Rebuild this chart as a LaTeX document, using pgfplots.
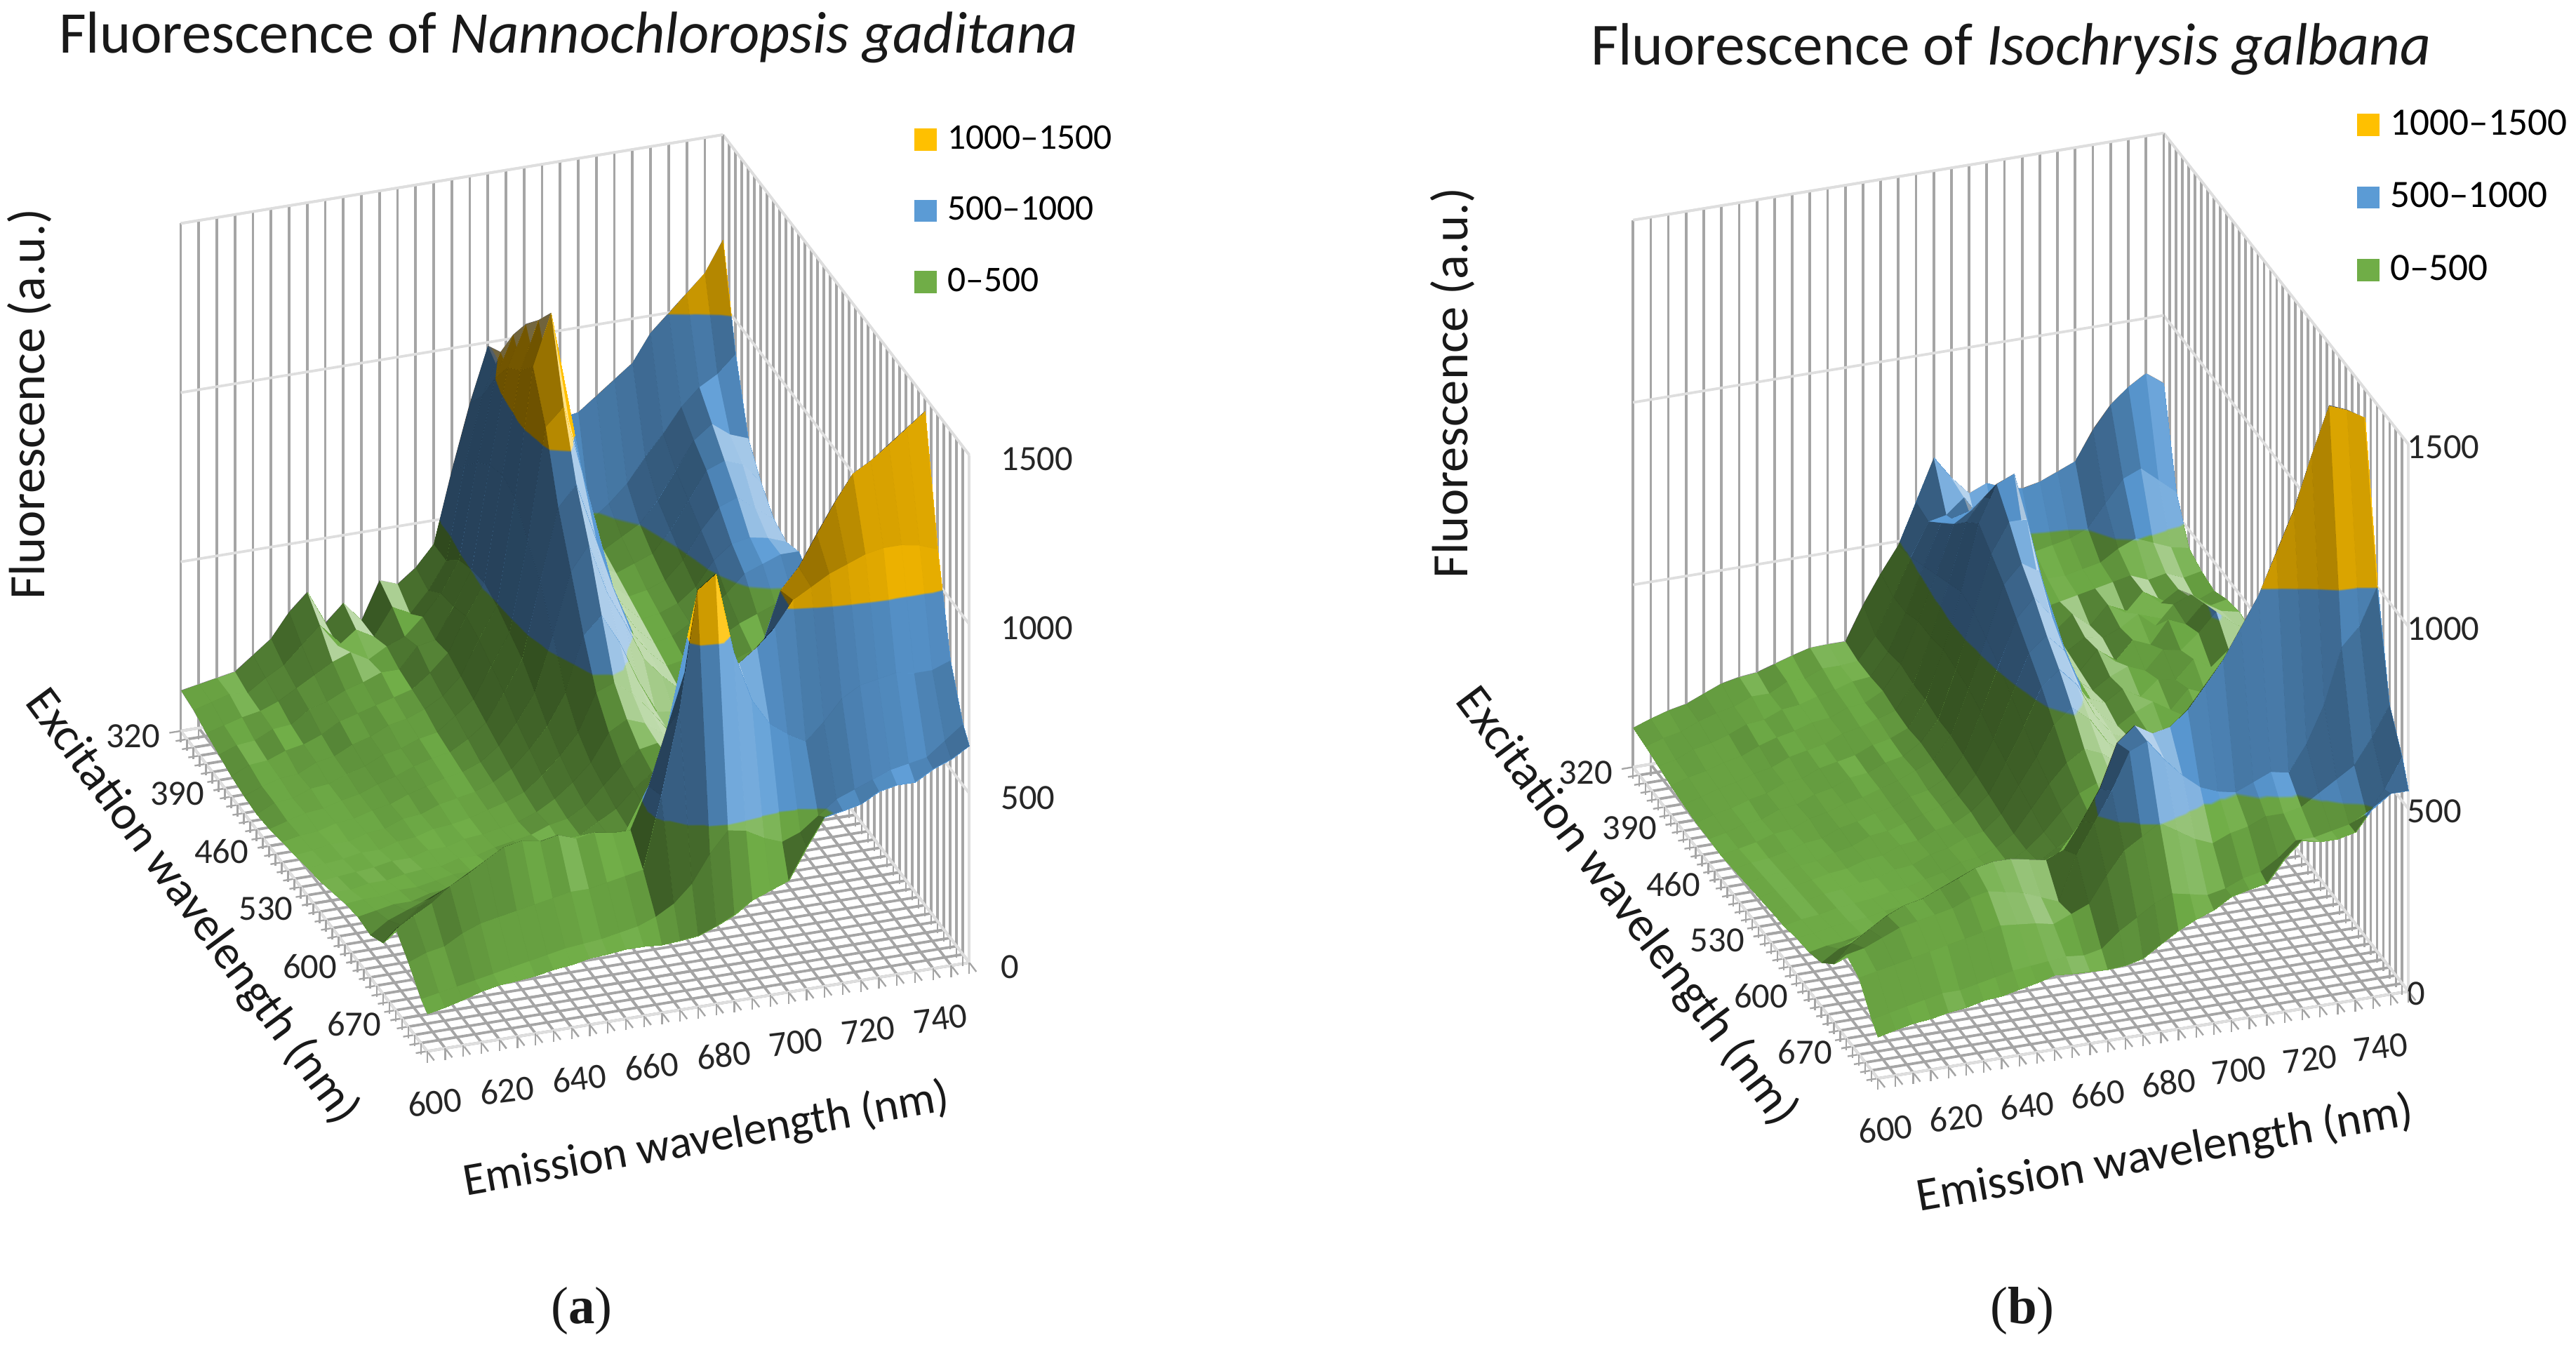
\documentclass[border=0pt]{standalone}
\usepackage{pgfplots}
\usepackage{pgfplotstable}
\usepackage{fontspec}
\setmainfont{Carlito}
\newfontfamily\serifb{Liberation Serif}
\pgfplotsset{compat=1.18}
\usepgfplotslibrary{patchplots}
\usetikzlibrary{calc}

% Fluorescence: rows = excitation, columns = emission
\pgfplotstableread{
ex 600 605 610 615 620 625 630 635 640 645 650 655 660 665 670 675 680 685 690 695 700 705 710 715 720 725 730 735 740 745 750
320 120 130 140 150 190 230 300 350 250 300 240 350 330 370 430 640 830 990 860 760 720 740 750 790 830 870 950 1000 1050 1100 1190
340 110 125 140 135 170 200 250 300 230 270 240 320 290 350 430 700 900 1020 880 660 520 470 480 520 570 640 700 770 820 850 900
360 90 105 120 130 150 180 210 240 260 230 260 280 330 390 480 760 1000 1120 920 680 520 460 440 470 500 560 640 720 760 720 700
380 75 95 100 125 130 165 180 205 220 240 240 300 310 400 500 800 1080 1200 960 690 520 450 420 440 460 520 600 680 700 680 620
400 60 85 90 110 120 140 170 185 200 215 230 270 320 420 510 820 1120 1260 980 690 520 440 400 410 430 480 560 620 640 600 560
420 50 70 85 90 115 125 150 165 190 200 220 250 300 400 490 800 1180 1330 1000 680 510 430 380 390 410 450 520 560 570 560 540
440 45 70 75 95 100 120 135 160 170 190 200 240 280 370 460 720 1050 1100 900 640 490 410 360 370 400 420 470 520 540 560 560
460 50 65 80 85 100 110 130 145 165 180 190 220 260 340 430 650 860 920 760 600 460 390 340 350 380 400 430 450 470 480 520
480 60 70 75 90 95 110 120 140 155 170 180 200 240 300 380 540 720 790 640 540 430 370 320 340 360 380 400 390 420 380 360
500 70 75 85 85 100 105 125 130 150 160 170 190 220 270 330 420 580 630 540 420 320 310 330 320 350 360 380 370 390 400 370
520 80 85 90 100 100 115 120 135 140 150 165 180 200 240 290 350 460 480 440 380 310 300 340 330 340 370 360 400 380 410 390
540 90 95 100 105 115 115 130 130 145 150 160 170 190 220 260 310 390 420 400 360 310 320 350 340 370 360 400 390 420 410 430
560 105 105 115 115 125 130 130 145 145 160 170 180 200 210 240 290 340 380 390 350 320 340 360 380 370 410 400 430 440 460 480
580 120 125 125 135 135 145 155 155 165 170 190 200 190 210 240 270 320 360 390 370 340 360 400 430 450 460 490 520 540 570 600
600 130 140 150 150 165 170 175 190 200 200 220 200 210 220 240 260 300 350 420 410 380 430 480 520 560 600 640 660 680 700 720
620 125 160 180 200 210 225 240 235 250 260 250 270 240 260 280 300 340 400 500 480 450 520 600 700 780 830 880 900 920 930 950
640 150 195 240 270 290 310 330 340 330 350 370 330 340 320 350 420 520 620 700 720 750 850 1000 1060 1150 1235 1310 1340 1380 1420 1460
660 240 270 300 340 370 400 430 440 430 440 420 430 420 420 540 700 860 900 860 860 900 950 1020 1050 1080 1100 1120 1130 1130 1120 1100
680 190 210 220 250 270 280 290 300 310 320 320 330 340 350 560 800 1150 1190 950 800 720 680 650 700 760 790 800 810 800 800 820
700 130 140 150 160 170 180 190 200 210 215 220 230 240 260 290 340 420 480 470 440 420 440 480 520 540 560 580 590 600 640 680
710 110 120 135 150 160 165 170 180 185 195 200 205 205 200 205 210 230 255 290 310 330 420 500 510 520 550 560 560 590 610 640
}\tabA

% Fluorescence
\pgfplotstableread{
ex 600 605 610 615 620 625 630 635 640 645 650 655 660 665 670 675 680 685 690 695 700 705 710 715 720 725 730 735 740 745 750
320 108 125 140 150 170 190 200 205 220 235 248 250 250 342 420 490 600 713 650 600 620 600 590 600 620 640 720 780 820 850 815
340 100 115 125 145 160 170 190 190 215 215 235 235 240 300 400 500 590 600 640 500 440 450 460 470 480 500 560 620 640 600 560
360 90 100 120 130 145 165 170 190 195 210 220 235 240 300 400 520 630 620 640 510 430 420 430 430 440 450 480 500 480 460 450
380 80 95 105 120 130 150 165 175 190 195 215 220 245 310 420 540 670 700 680 520 420 400 410 420 430 440 450 430 440 420 430
400 72 85 100 110 125 135 155 165 175 195 205 220 235 300 420 560 720 780 760 540 410 380 420 380 430 400 450 410 440 400 420
420 65 80 90 105 115 135 140 160 170 180 200 210 230 300 430 580 760 860 880 560 400 370 400 390 410 440 400 450 470 430 440
440 65 75 90 95 115 120 140 150 170 175 195 205 235 290 420 570 720 800 800 540 390 360 410 370 420 400 460 440 490 460 450
460 65 75 85 100 105 125 135 150 160 175 190 210 230 290 410 540 680 730 700 510 390 350 380 400 380 430 420 460 510 470 440
480 70 80 85 95 110 115 135 145 160 170 190 200 225 280 390 510 630 680 620 480 380 360 390 360 400 390 440 410 450 430 410
500 75 85 90 100 105 120 130 150 155 170 185 200 220 270 360 470 580 620 570 450 380 340 370 390 360 410 390 430 400 420 390
520 80 90 95 105 115 120 135 140 160 165 185 195 220 260 340 430 530 570 520 430 370 350 360 340 390 370 400 370 410 380 390
540 85 95 100 110 115 125 130 145 150 170 180 200 210 250 320 390 470 510 470 400 360 330 350 370 350 380 360 390 370 400 410
560 90 100 105 115 120 125 135 140 155 165 185 190 210 240 300 360 410 440 420 380 350 340 360 350 370 360 390 380 420 400 440
580 100 105 115 120 125 135 140 150 155 170 180 200 210 240 280 330 370 390 380 350 340 350 370 390 400 420 450 470 500 540 600
600 105 115 120 130 135 140 155 160 175 180 195 205 225 250 280 310 340 350 340 350 380 400 440 480 520 560 620 680 730 760 800
620 120 150 165 180 195 205 220 230 250 260 260 280 290 290 320 340 380 420 480 490 500 560 620 680 720 760 800 850 900 930 950
640 160 210 240 270 290 300 320 340 360 370 370 360 350 370 440 520 640 680 650 660 700 760 820 900 980 1090 1200 1340 1470 1450 1420
660 230 240 260 280 290 300 310 330 340 330 320 300 280 400 480 560 660 680 620 570 530 510 500 520 540 530 600 700 850 900 1000
680 210 220 230 240 250 260 270 280 290 285 280 270 290 310 380 440 470 500 470 440 420 440 450 470 470 480 510 540 570 640 720
700 140 150 160 170 180 180 190 200 210 215 220 225 220 230 270 300 330 350 340 330 340 360 370 400 440 440 450 460 480 540 620
710 113 125 135 140 150 155 165 170 180 190 203 200 198 195 198 210 240 270 293 310 340 350 360 420 464 450 450 460 520 550 550
}\tabB

\newcount\pc \newcount\pr
\newcommand\storetable[2]{%
  \global\pc=0
  \pgfplotstableforeachcolumn#1\as\colname{%
    \global\pr=0
    \pgfplotstableforeachcolumnelement{\colname}\of#1\as\cell{%
      \expandafter\xdef\csname #2.\the\pc.\the\pr\endcsname{\cell}%
      \global\advance\pr by 1
    }%
    \global\advance\pc by 1
  }%
}
\storetable\tabA{A}
\storetable\tabB{B}
\newcommand\Zv[3]{\csname #1.#2.#3\endcsname}

\definecolor{gridg}{RGB}{165,165,165}
\definecolor{gridl}{RGB}{222,222,222}
\definecolor{cor}{RGB}{255,192,0}
\definecolor{cbl}{RGB}{91,155,213}
\definecolor{cgr}{RGB}{112,173,71}

\pgfplotsset{
  colormap={bands}{rgb255(0pt)=(112,173,71); rgb255(495pt)=(112,173,71); rgb255(500pt)=(91,155,213); rgb255(995pt)=(91,155,213); rgb255(1000pt)=(255,192,0); rgb255(1500pt)=(255,192,0)},
  colormap={shade}{gray(0pt)=(0); gray(1500pt)=(1)},
  bandplot/.style={surf,shader=interp,colormap name=bands,mesh/rows=2,mesh/cols=31,point meta=explicit,z buffer=none,forget plot},
  shadeplot/.style={surf,shader=flat corner,draw=none,/tikz/draw opacity=0,colormap name=shade,mesh/rows=2,mesh/cols=31,point meta=explicit,z buffer=none,forget plot,/tikz/blend mode=hard light},
  panel/.style={
    anchor=south west, clip=false,
    xmin=600,xmax=750,ymin=-710,ymax=-320,zmin=0,zmax=1500,
    point meta min=0, point meta max=1500,
    xtick={600,620,...,740}, minor xtick={605,610,...,750},
    ytick={-320,-390,-460,-530,-600,-670}, yticklabels={320,390,460,530,600,670},
    minor ytick={-330,-340,...,-710},
    ztick={0,500,1000,1500},
    xtick pos=left, ytick pos=left,
    zticklabel pos=right,
    grid=both,
    x grid style={gridg,line width=0.8pt}, y grid style={gridg,line width=0.8pt},
    minor x grid style={gridg,line width=0.8pt}, minor y grid style={gridg,line width=0.8pt},
    z grid style={gridl,line width=0.8pt},
    axis line style={gridl,line width=0.8pt},
    tick align=outside,
    major tick length=3.5pt, minor tick length=3.5pt,
    xtick style={gridg,line width=0.5pt}, ytick style={gridg,line width=0.5pt},
    minor tick style={gridg,line width=0.5pt},
    ztick style={draw=none},
    tick label style={font=\fontsize{10.8}{12}\selectfont,text=black!85,/pgf/number format/assume math mode=true,/pgf/number format/1000 sep={}},
    x tick label style={rotate=7,xshift=-3pt,yshift=-5pt},
    y tick label style={xshift=-2pt,yshift=9.5pt},
    z tick label style={anchor=west,xshift=6pt,yshift=-1pt},
    legend cell align=left,
    legend style={draw=none,fill=none,anchor=north west,row sep=9pt,
      /tikz/every odd column/.append style={column sep=1.2pt}},
  },
  swatch/.style={legend image code/.code={\fill[#1] (0cm,-3.2pt) rectangle (6.6pt,3.2pt);}},
}

% facet brightness from the local slopes of the surface
\newcommand\calcS[1]{%
  \pgfmathtruncatemacro\cq{\c>1 ? \c : 2}%
  \pgfmathtruncatemacro\cp{\cq-1}%
  \pgfmathsetmacro\px{0.5*(\Zv{#1}{\cq}{\jn}-\Zv{#1}{\cp}{\jn}+\Zv{#1}{\cq}{\j}-\Zv{#1}{\cp}{\j})/35}%
  \pgfmathsetmacro\py{0.5*(\Zv{#1}{\cq}{\j}-\Zv{#1}{\cq}{\jn}+\Zv{#1}{\cp}{\j}-\Zv{#1}{\cp}{\jn})/70}%
  \pgfmathsetmacro\rr{sqrt(1+\px*\px+\py*\py)}%
  \pgfmathsetmacro\sv{1500*(0.42+0.13/\rr-0.34*min(\px,0)/\rr-0.22*max(\px,0)/\rr-0.10*max(\py,0)/\rr)}%
  \pgfmathtruncatemacro\em{595+5*\c}%
}
\newcommand\drawpanel[1]{%
  \pgfplotsforeachungrouped \j in {1,...,20}{%
    \pgfmathtruncatemacro\jn{\j-1}%
    \gdef\bandcoords{}\gdef\shadecoords{}%
    \pgfplotsforeachungrouped \c in {31,30,...,1}{%
      \calcS{#1}%
      \xdef\bandcoords{\bandcoords (\em,-\Zv{#1}{0}{\jn},\Zv{#1}{\c}{\jn}) [\Zv{#1}{\c}{\jn}] }%
      \xdef\shadecoords{\shadecoords (\em,-\Zv{#1}{0}{\jn},\Zv{#1}{\c}{\jn}) [\sv] }%
    }%
    \pgfplotsforeachungrouped \c in {31,30,...,1}{%
      \calcS{#1}%
      \xdef\bandcoords{\bandcoords (\em,-\Zv{#1}{0}{\j},\Zv{#1}{\c}{\j}) [\Zv{#1}{\c}{\j}] }%
      \xdef\shadecoords{\shadecoords (\em,-\Zv{#1}{0}{\j},\Zv{#1}{\c}{\j}) [\sv] }%
    }%
    \edef\temp{\noexpand\addplot3[bandplot] coordinates {\bandcoords};
      \noexpand\addplot3[shadeplot] coordinates {\shadecoords};}%
    \temp
  }%
}

\begin{document}
\begin{tikzpicture}
\useasboundingbox (0,0) rectangle (784pt,-413.5pt);

\begin{axis}[panel,
  at={(55pt,-320pt)},
  x={(1.1pt,0.18pt)}, y={(-0.19231pt,0.25pt)}, z={(0pt,0.103pt)},
  z tick label style={xshift=-2pt,yshift=2.5pt},
  legend style={at={(axis cs:750,-606,2262)},font=\fontsize{11}{13}\selectfont},
]
\drawpanel{A}
\addlegendimage{swatch=cor}\addlegendentry{1000–1500}
\addlegendimage{swatch=cbl}\addlegendentry{500–1000}
\addlegendimage{swatch=cgr}\addlegendentry{0–500}
\end{axis}

\begin{axis}[panel,
  at={(497pt,-328.25pt)},
  x={(1.07667pt,0.17667pt)}, y={(-0.19103pt,0.24295pt)}, z={(0pt,0.111pt)},
  z tick label style={xshift=-12pt,yshift=3pt},
  legend style={at={(axis cs:750,-611,2239)},font=\fontsize{11.8}{13}\selectfont},
]
\drawpanel{B}
\addlegendimage{swatch=cor}\addlegendentry{1000–1500}
\addlegendimage{swatch=cbl}\addlegendentry{500–1000}
\addlegendimage{swatch=cgr}\addlegendentry{0–500}
\end{axis}

\begin{scope}[x=0.5pt,y=-0.5pt,text=black!90]
\node[font=\fontsize{18}{20}\selectfont] at (346,23) {Fluorescence of \textit{Nannochloropsis gaditana}};
\node[font=\fontsize{18.2}{20}\selectfont] at (1224,30) {Fluorescence of \textit{Isochrysis galbana}};
\node[font=\fontsize{15.5}{17}\selectfont,rotate=90] at (18,246) {Fluorescence (a.u.)};
\node[font=\fontsize{15.5}{17}\selectfont,rotate=90] at (884,233) {Fluorescence (a.u.)};
\node[font=\fontsize{14.6}{16}\selectfont,rotate=-53.5] at (117,552) {Excitation wavelength (nm)};
\node[font=\fontsize{14.8}{16}\selectfont,rotate=-53] at (990,552) {Excitation wavelength (nm)};
\node[font=\fontsize{14.1}{16}\selectfont,rotate=10] at (430,694) {Emission wavelength (nm)};
\node[font=\fontsize{14.4}{16}\selectfont,rotate=10] at (1318,703) {Emission wavelength (nm)};
\node[font=\serifb\fontsize{16}{18}\selectfont] at (354,798) {(\textbf{a})};
\node[font=\serifb\fontsize{16}{18}\selectfont] at (1231,798) {(\textbf{b})};
\end{scope}
\end{tikzpicture}
\end{document}
